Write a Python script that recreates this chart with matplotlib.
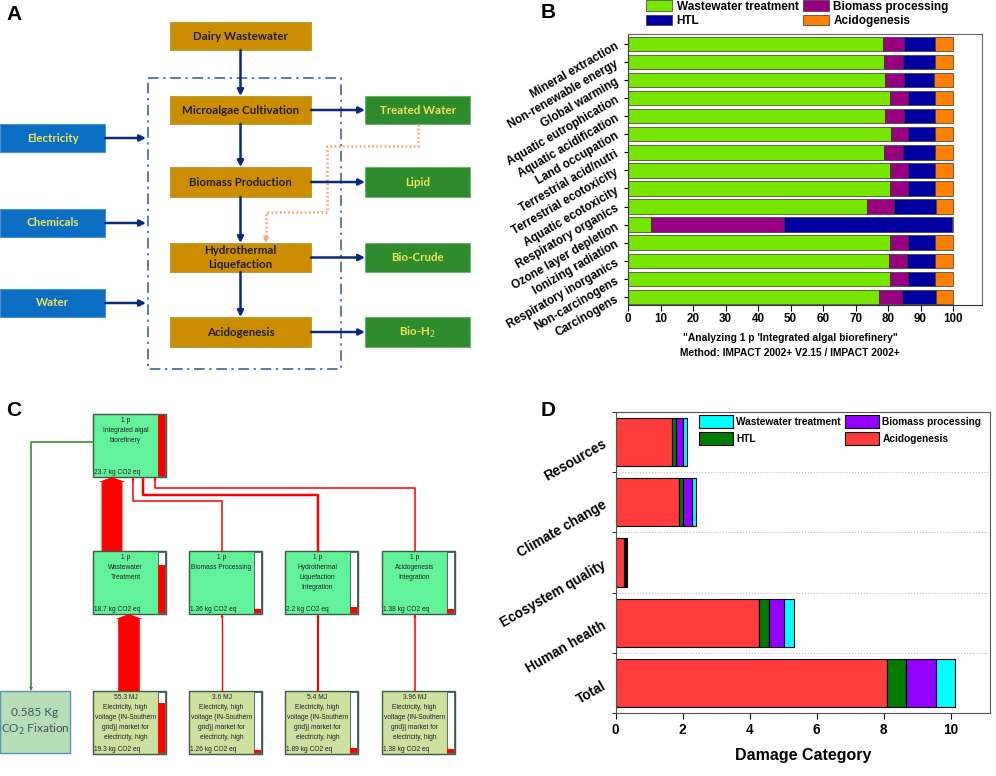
import matplotlib.pyplot as plt
from matplotlib.patches import Rectangle, FancyArrow, Patch
import numpy as np

plt.rcParams['font.family'] = ['Liberation Sans', 'DejaVu Sans']

# ---- panel B: share of each process per impact category (%) ----
b_categories = ['Mineral extraction', 'Non-renewable energy', 'Global warming',
                'Aquatic eutrophication', 'Aquatic acidification', 'Land occupation',
                'Terrestrial acid/nutri', 'Terrestrial ecotoxicity', 'Aquatic ecotoxicity',
                'Respiratory organics', 'Ozone layer depletion', 'Ionizing radiation',
                'Respiratory inorganics', 'Non-carcinogens', 'Carcinogens']
b_wastewater = [78.5, 78.8, 79.0, 80.5, 79.1, 80.8, 78.7, 80.5, 80.5, 73.4, 7.2, 80.7, 80.2, 80.7, 77.2]
b_biomass = [6.4, 5.9, 5.9, 5.6, 5.8, 5.4, 5.8, 5.6, 5.6, 8.4, 40.9, 5.4, 5.5, 5.4, 7.1]
b_htl = [9.5, 9.7, 9.3, 8.2, 9.5, 8.1, 9.9, 8.2, 8.2, 13.0, 51.5, 8.2, 8.6, 8.2, 10.3]
b_acido = [5.6, 5.6, 5.8, 5.7, 5.6, 5.7, 5.6, 5.7, 5.7, 5.2, 0.4, 5.7, 5.7, 5.7, 5.4]

# ---- panel D: damage categories ----
d_categories = ['Resources', 'Climate change', 'Ecosystem quality', 'Human health', 'Total']
d_acido = [1.69, 1.90, 0.25, 4.27, 8.09]
d_htl = [0.10, 0.12, 0.03, 0.29, 0.58]
d_biomass = [0.21, 0.25, 0.03, 0.45, 0.90]
d_wastewater = [0.12, 0.13, 0.02, 0.31, 0.57]

# ---- panel A: flow sheet ----
a_steps = ['Dairy Wastewater', 'Microalgae Cultivation', 'Biomass Production',
           'Hydrothermal\nLiquefaction', 'Acidogenesis']
a_products = ['Treated Water', 'Lipid', 'Bio-Crude', 'Bio-H$_2$']
a_inputs = ['Electricity', 'Chemicals', 'Water']

# ---- panel C: process network (kg CO2 eq) ----
c_top_label = '1 p\nIntegrated algal\nbiorefinery'
c_top_value = 23.7
c_mid_labels = ['1 p\nWastewater\nTreatment', '1 p\nBiomass Processing',
                '1 p\nHydrothermal\nLiquefaction\nIntegration', '1 p\nAcidogenesis\nIntegration']
c_mid_values = [18.7, 1.36, 2.2, 1.38]
c_bot_energy = ['55.3 MJ', '3.6 MJ', '5.4 MJ', '3.96 MJ']
c_bot_values = [19.3, 1.26, 1.89, 1.38]
c_fixation = '0.585 Kg\nCO$_2$ Fixation'

fig = plt.figure(figsize=(9.96, 7.76), dpi=100)
ax0 = fig.add_axes([0, 0, 1, 1])
ax0.set_xlim(0, 996)
ax0.set_ylim(776, 0)
ax0.axis('off')

for letter, (x, y) in zip('ABCD', [(14, 14), (548, 13), (14, 411), (548, 410)]):
    ax0.text(x, y, letter, fontsize=15, fontweight='bold', ha='center', va='center')

navy = '#0B2A78'


def arrow(x0, y0, x1, y1, color=navy, lw=1.8, ms=9):
    ax0.annotate('', xy=(x1, y1), xytext=(x0, y0),
                 arrowprops=dict(arrowstyle='-|>', color=color, lw=lw, mutation_scale=ms,
                                 shrinkA=0, shrinkB=0))


def box(x, y, w, h, fc, ec, label, tc, fs=8.3):
    ax0.add_patch(Rectangle((x, y), w, h, fc=fc, ec=ec, lw=0.8))
    ax0.text(x + w / 2, y + h / 2, label, ha='center', va='center', color=tc,
             fontsize=fs, fontweight='bold', family=['Lato', 'DejaVu Sans'], linespacing=1.25)


# panel A
step_top = [22, 96, 167, 243, 317]
step_h = [28, 28, 30, 29, 30]
for lab, y, h in zip(a_steps, step_top, step_h):
    box(170, y, 141, h, '#CC8E00', '#A9A24A', lab, '#1E1E2A')
for i in range(len(a_steps) - 1):
    arrow(240.5, step_top[i] + step_h[i], 240.5, step_top[i + 1])
for lab, y, h in zip(a_products, step_top[1:], step_h[1:]):
    box(365, y, 105, h, '#2E8B2E', '#6FAF6F', lab, '#F2E35A')
    arrow(311, y + h / 2, 365, y + h / 2)
for lab, y in zip(a_inputs, [124, 209, 289]):
    box(0, y, 105, 28, '#0A6FC2', '#4A8FD0', lab, '#F2E35A')
    arrow(105, y + 14, 146, y + 14)
ax0.add_patch(Rectangle((148, 78), 193, 291, fill=False, ec='#2F5597', lw=1.1,
                        ls=(0, (7, 3, 1.5, 3))))
ax0.plot([418, 418, 327, 327, 266, 266], [124, 146, 146, 212, 212, 237],
         color='#F5A878', lw=2, ls=(0, (0.6, 0.9)))
arrow(266, 236, 266, 243, color='#F5A878', lw=1, ms=8)

# panel C
mid_x = [93, 189, 285, 382]
node_w, bar_w = 73, 8
top_x, top_y, node_h = 93, 414, 63
mid_y, bot_y = 551, 691
small = dict(fontsize=4.8, family=['Liberation Sans', 'DejaVu Sans'], color='#222222')


def node(x, y, fc, text, value, ref):
    ax0.add_patch(Rectangle((x, y), node_w, node_h, fc=fc, ec='#3C5A48', lw=1))
    ax0.add_patch(Rectangle((x + node_w - bar_w, y + 1), bar_w - 1, node_h - 2, fc='white',
                            ec='#3C5A48', lw=0.6))
    frac = value / ref
    fh = (node_h - 2) * frac
    ax0.add_patch(Rectangle((x + node_w - bar_w, y + node_h - 1 - fh), bar_w - 1, fh,
                            fc='#FF0000', ec='none'))
    ax0.text(x + (node_w - bar_w) / 2, y + 3, text, ha='center', va='top', linespacing=1.6, **small)
    ax0.text(x + 1, y + node_h - 1, f'{value:g} kg CO2 eq', ha='left', va='bottom', **small)


node(top_x, top_y, '#62F29A', c_top_label, c_top_value, c_top_value)
for x, lab, v in zip(mid_x, c_mid_labels, c_mid_values):
    node(x, mid_y, '#62F29A', lab, v, c_top_value)
for x, en, v in zip(mid_x, c_bot_energy, c_bot_values):
    node(x, bot_y, '#CCE0A0',
         en + '\nElectricity, high\nvoltage {IN-Southern\ngrid}| market for\nelectricity, high',
         v, c_top_value)

px = 1.12  # flow width in px per kg CO2 eq
# thick flow: wastewater chain
for xc, y0, y1, v in [(129, bot_y, mid_y + node_h, c_bot_values[0]),
                      (112, mid_y, top_y + node_h, c_mid_values[0])]:
    w = v * px
    ax0.add_patch(FancyArrow(xc, y0, 0, y1 - y0, width=w, head_width=w * 1.25, head_length=5,
                             length_includes_head=True, fc='#FF0000', ec='none'))
# thin flows bottom -> middle
for x, v in zip(mid_x[1:], c_bot_values[1:]):
    xc = x + 33
    ax0.plot([xc, xc], [bot_y, mid_y + node_h + 3], color='#FF0000', lw=v * px * 0.72)
    arrow(xc, mid_y + node_h + 4, xc, mid_y + node_h, color='#FF0000', lw=0.5, ms=4)
# thin flows middle -> top
for x, v, yt, xe in zip(mid_x[1:], c_mid_values[1:], [501, 495, 488], [133, 143, 155]):
    xc = x + 33
    ax0.plot([xc, xc, xe, xe], [mid_y, yt, yt, top_y + node_h + 3], color='#FF0000',
             lw=v * px * 0.72)
    arrow(xe, top_y + node_h + 4, xe, top_y + node_h, color='#FF0000', lw=0.5, ms=4)
# CO2 fixation
ax0.plot([top_x, 31, 31], [442, 442, bot_y - 4], color='#3C8C3C', lw=1.2)
arrow(31, bot_y - 5, 31, bot_y, color='#3C8C3C', lw=0.6, ms=5)
ax0.add_patch(Rectangle((0, bot_y), 70, 62, fc='#B7DDB5', ec='#5B8FBF', lw=1))
ax0.text(35, bot_y + 31, c_fixation, ha='center', va='center', fontsize=8.5,
         color='#44525E', linespacing=1.3, family=['Lato', 'DejaVu Sans'])

# panel B
b_colors = ['#77E600', '#990080', '#0000A0', '#FF8000']
b_labels = ['Wastewater treatment', 'Biomass processing', 'HTL', 'Acidogenesis']
axb = fig.add_axes([628 / 996, 1 - 305 / 776, 354 / 996, 271 / 776])
yb = np.arange(len(b_categories))
left = np.zeros(len(yb))
bars_b = []
for vals, col, lab in zip([b_wastewater, b_biomass, b_htl, b_acido], b_colors, b_labels):
    bars_b.append(axb.barh(yb, vals, left=left, height=0.8, color=col, edgecolor='#333333',
                           linewidth=0.5, label=lab))
    left += np.array(vals)
axb.set_xlim(0, 108.9)
axb.set_ylim(14.45, -0.55)
axb.set_xticks(range(0, 101, 10))
axb.set_yticks(yb)
axb.set_yticklabels(b_categories, rotation=30, ha='right', rotation_mode='anchor',
                    fontsize=8.4, fontweight='bold')
axb.tick_params(axis='y', direction='out', length=3, pad=5)
axb.tick_params(axis='x', direction='out', length=4, labelsize=8.4, pad=2)
for t in axb.get_xticklabels():
    t.set_fontweight('bold')
for s in axb.spines.values():
    s.set_color('#666666')
axb.spines['bottom'].set_color('#333333')
axb.spines['left'].set_color('#333333')
ax0.text(790, 338, '"Analyzing 1 p \'Integrated algal biorefinery"', ha='center', va='center',
         fontsize=7.4, fontweight='bold')
ax0.text(790, 353, 'Method: IMPACT 2002+ V2.15 / IMPACT 2002+', ha='center', va='center',
         fontsize=7.4, fontweight='bold')
fig.legend([bars_b[0], bars_b[2], bars_b[1], bars_b[3]],
           [b_labels[0], b_labels[2], b_labels[1], b_labels[3]],
           ncol=2, loc='upper left', bbox_to_anchor=(646 / 996, 1 - 0.5 / 776), frameon=False,
           prop=dict(weight='bold', size=8.5), handlelength=2.2, handleheight=0.95,
           handletextpad=0.4, columnspacing=0.35, labelspacing=0.2, borderpad=0,
           borderaxespad=0)

# panel D
d_colors = ['#FF3B3B', '#007A00', '#9400FF', '#00FFFF']
d_labels = ['Acidogenesis', 'HTL', 'Biomass processing', 'Wastewater treatment']
axd = fig.add_axes([615.7 / 996, 1 - 713.3 / 776, 374.3 / 996, 301.6 / 776])
yd = np.arange(len(d_categories))
left = np.zeros(len(yd))
bars_d = []
for vals, col, lab in zip([d_acido, d_htl, d_biomass, d_wastewater], d_colors, d_labels):
    bars_d.append(axd.barh(yd, vals, left=left, height=0.8, color=col, edgecolor='black',
                           linewidth=0.8, label=lab))
    left += np.array(vals)
axd.set_xlim(0, 11.17)
axd.set_ylim(4.47, -0.48)
axd.set_xticks(range(0, 11, 2))
axd.set_yticks(yd)
axd.set_yticks(np.arange(-0.5, 5, 1), minor=True)
axd.set_yticklabels(d_categories, rotation=30, ha='right', rotation_mode='anchor',
                    fontsize=9.8, fontweight='bold')
axd.tick_params(axis='y', which='major', length=0, pad=8)
axd.tick_params(axis='y', which='minor', direction='out', length=3)
axd.tick_params(axis='x', direction='out', length=4, labelsize=9.8, pad=3)
for t in axd.get_xticklabels():
    t.set_fontweight('bold')
axd.grid(axis='y', which='minor', ls=':', color='#BBBBBB', lw=0.8)
axd.set_axisbelow(True)
for s in axd.spines.values():
    s.set_color('#555555')
axd.set_xlabel('Damage Category', fontsize=11.5, fontweight='bold', labelpad=8)
axd.legend([bars_d[3], bars_d[1], bars_d[2], bars_d[0]],
           [d_labels[3], d_labels[1], d_labels[2], d_labels[0]],
           ncol=2, loc='upper left', bbox_to_anchor=(698.7 / 996, 1 - 415 / 776),
           bbox_transform=fig.transFigure, frameon=False,
           prop=dict(weight='bold', size=7.3), handlelength=3.4, handleheight=1.65,
           handletextpad=0.3, columnspacing=0.4, labelspacing=0.35, borderpad=0,
           borderaxespad=0)

fig.savefig('out.png', dpi=100)
